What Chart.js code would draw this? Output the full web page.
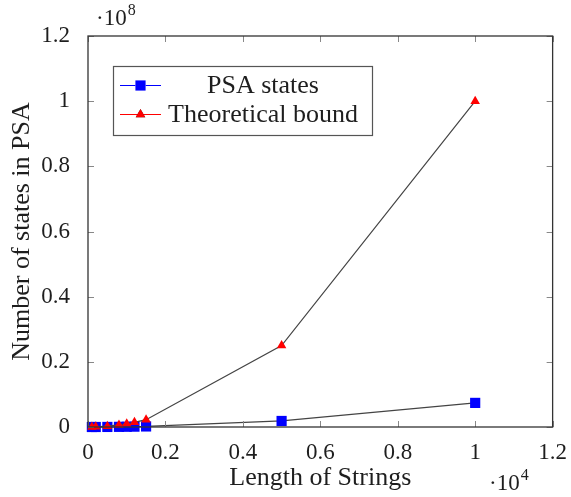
<!DOCTYPE html>
<html>
<head>
<meta charset="utf-8">
<script src="https://cdn.jsdelivr.net/npm/chart.js@4.4.1/dist/chart.umd.min.js"></script>
<style>
  html, body { margin: 0; padding: 0; background: #fff; }
  #wrap { width: 571px; height: 497px; }
</style>
</head>
<body>
<div id="wrap"><canvas id="states"></canvas></div>
<script>
// string lengths and state counts
const lengths = [100, 200, 500, 800, 1000, 1200, 1500, 5000, 10000];
const psaStates = [800, 3000, 18000, 47000, 74000, 107000, 167000, 1850000, 7400000];
const theoreticalBound = [10000, 40000, 250000, 640000, 1000000, 1440000, 2250000, 25000000, 100000000];
const xTicks = [0, 2000, 4000, 6000, 8000, 10000, 12000];
const yTicks = [0, 20000000, 40000000, 60000000, 80000000, 100000000, 120000000];

const SERIF = "'Liberation Serif', 'DejaVu Serif', serif";
const INK = '#1e1e1e';

function pairs(xs, ys) {
  return xs.map((x, i) => ({ x: x, y: ys[i] }));
}

function fmt(v) {
  return String(Math.round(v * 10) / 10);
}

// box, inward ticks, exponent labels and legend, pgfplots style
const axisDecor = {
  id: 'axisDecor',
  afterDatasetsDraw(chart) {
    const { ctx, chartArea: a, scales } = chart;
    const tl = 6;
    ctx.save();
    ctx.strokeStyle = '#888';
    ctx.lineWidth = 1;
    ctx.beginPath();
    xTicks.forEach(v => {
      const px = Math.round(scales.x.getPixelForValue(v)) + 0.5;
      ctx.moveTo(px, a.bottom); ctx.lineTo(px, a.bottom - tl);
      ctx.moveTo(px, a.top); ctx.lineTo(px, a.top + tl);
    });
    yTicks.forEach(v => {
      const py = Math.round(scales.y.getPixelForValue(v)) + 0.5;
      ctx.moveTo(a.left, py); ctx.lineTo(a.left + tl, py);
      ctx.moveTo(a.right, py); ctx.lineTo(a.right - tl, py);
    });
    ctx.stroke();

    ctx.strokeStyle = '#333';
    ctx.lineWidth = 1.3;
    ctx.strokeRect(a.left, a.top, a.right - a.left, a.bottom - a.top);

    // multipliers
    ctx.fillStyle = INK;
    ctx.textBaseline = 'alphabetic';
    ctx.textAlign = 'left';
    const expo = (x, y, e) => {
      ctx.font = '23px ' + SERIF;
      ctx.fillText('\u00b710', x, y);
      const w = ctx.measureText('\u00b710').width;
      ctx.font = '16px ' + SERIF;
      ctx.fillText(e, x + w + 1, y - 10);
    };
    expo(96, 25, '8');
    expo(489, 490, '4');

    // legend
    const lx = 113, ly = 66, lw = 259, lh = 69;
    ctx.fillStyle = '#fff';
    ctx.fillRect(lx, ly, lw, lh);
    ctx.strokeStyle = '#555';
    ctx.lineWidth = 1.2;
    ctx.strokeRect(lx + 0.5, ly + 0.5, lw, lh);
    const rows = [
      { ds: chart.data.datasets[1], y: 85 },
      { ds: chart.data.datasets[0], y: 114 }
    ];
    rows.forEach(r => {
      ctx.strokeStyle = r.ds.pointBackgroundColor;
      ctx.lineWidth = 1;
      ctx.beginPath();
      ctx.moveTo(120, r.y + 0.5); ctx.lineTo(161, r.y + 0.5);
      ctx.stroke();
      Chart.helpers.drawPoint(ctx, {
        pointStyle: r.ds.pointStyle, radius: r.ds.pointRadius, borderWidth: 0, rotation: 0
      }, 140.5, r.y + 0.5);
      ctx.fillStyle = r.ds.pointBackgroundColor;
      ctx.fill();
      ctx.fillStyle = INK;
      ctx.font = '26px ' + SERIF;
      ctx.textAlign = 'center';
      ctx.textBaseline = 'middle';
      ctx.fillText(r.ds.label, 263, r.y + 1);
    });
    ctx.restore();
  }
};

new Chart(document.getElementById('states'), {
  type: 'line',
  data: {
    datasets: [
      {
        label: 'Theoretical bound',
        data: pairs(lengths, theoreticalBound),
        borderColor: '#444',
        borderWidth: 1.2,
        pointStyle: 'triangle',
        pointRadius: 5.5,
        pointBackgroundColor: '#ff0000',
        pointBorderWidth: 0,
        clip: false,
        order: 0
      },
      {
        label: 'PSA states',
        data: pairs(lengths, psaStates),
        borderColor: '#444',
        borderWidth: 1.2,
        pointStyle: 'rect',
        pointRadius: 7.2,
        pointBackgroundColor: '#0000ff',
        pointBorderWidth: 0,
        clip: false,
        order: 1
      }
    ]
  },
  options: {
    responsive: true,
    maintainAspectRatio: false,
    animation: false,
    layout: { padding: { top: 36, right: 15, left: 0, bottom: 0 } },
    plugins: {
      legend: { display: false },
      tooltip: { enabled: false }
    },
    scales: {
      x: {
        type: 'linear',
        min: 0,
        max: 12000,
        afterFit(s) { s.height = 70; },
        afterBuildTicks(s) { s.ticks = xTicks.map(v => ({ value: v })); },
        grid: { display: false },
        border: { display: false },
        ticks: {
          autoSkip: false,
          maxRotation: 0,
          padding: 4,
          color: INK,
          font: { family: SERIF, size: 23 },
          callback: v => fmt(v / 10000)
        },
        title: {
          display: true,
          text: 'Length of Strings',
          color: INK,
          font: { family: SERIF, size: 26 },
          padding: { top: 0, bottom: 3 }
        }
      },
      y: {
        type: 'linear',
        min: 0,
        max: 120000000,
        afterFit(s) { s.width = 88; },
        afterBuildTicks(s) { s.ticks = yTicks.map(v => ({ value: v })); },
        grid: { display: false },
        border: { display: false },
        ticks: {
          autoSkip: false,
          padding: 10,
          color: INK,
          font: { family: SERIF, size: 23 },
          callback: v => fmt(v / 100000000)
        },
        title: {
          display: true,
          text: 'Number of states in PSA',
          color: INK,
          font: { family: SERIF, size: 26 },
          padding: { top: 7, bottom: 0 }
        }
      }
    }
  },
  plugins: [axisDecor]
});
</script>
</body>
</html>
